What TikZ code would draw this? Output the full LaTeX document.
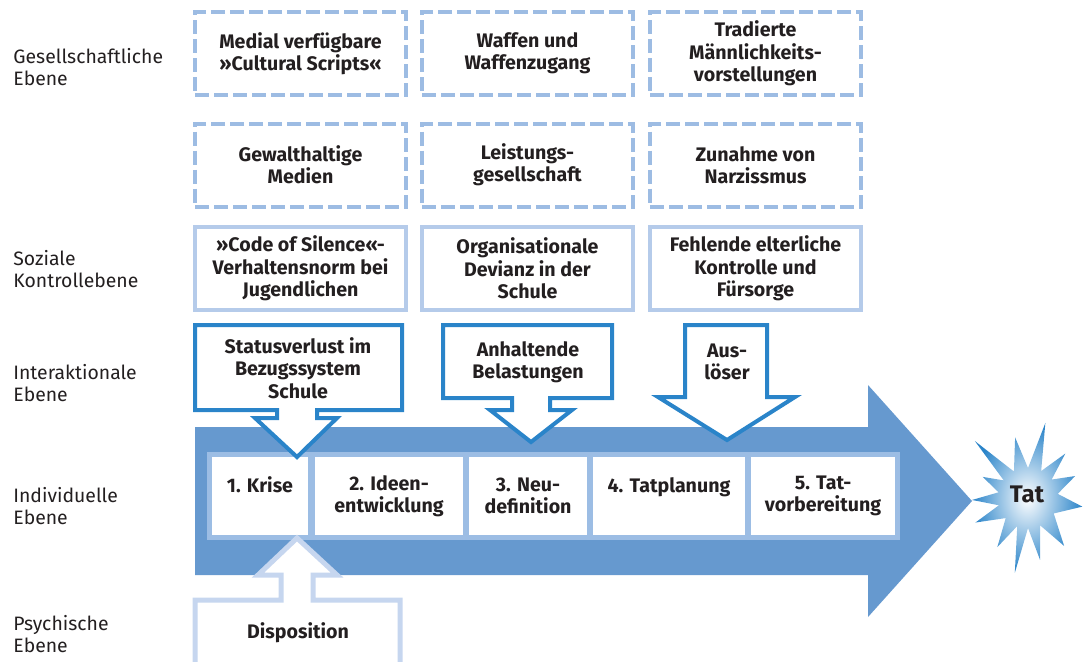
\documentclass[tikz,border=0pt]{standalone}
\usepackage{fontspec}
\setmainfont{Fira Sans}

\definecolor{dashblue}{HTML}{9DBCE3}
\definecolor{softblue}{HTML}{B5CBEA}
\definecolor{darkblue}{HTML}{2A84C9}
\definecolor{midblue}{HTML}{6699CF}
\definecolor{stripblue}{HTML}{9CBDE4}
\definecolor{dispblue}{HTML}{C6D6EF}
\definecolor{textgray}{HTML}{231F20}

\tikzset{
  factor/.style={draw=dashblue, line width=2pt, dash pattern=on 7pt off 2.5pt,
    minimum width=105.5pt, minimum height=41.5pt, inner sep=0pt, align=center,
    font=\fontsize{9.8}{11.2}\selectfont\bfseries, text=textgray},
  control/.style={factor, draw=softblue, solid},
  level/.style={anchor=west, align=left, inner sep=0pt, text=textgray,
    font=\fontsize{9.7}{11.2}\selectfont},
  phase/.style={fill=white, minimum height=39pt, inner sep=0pt, align=center,
    font=\fontsize{9.8}{11.2}\selectfont\bfseries, text=textgray},
  callout/.style={draw=darkblue, line width=2pt, fill=white, line join=miter},
  calltext/.style={align=center, inner sep=0pt, text=textgray,
    font=\fontsize{9.8}{11.2}\selectfont\bfseries}
}

\begin{document}
\begin{tikzpicture}[x=0.5pt,y=-0.5pt]
\useasboundingbox (0,0) rectangle (1085,661);
\clip (0,0) rectangle (1085,661);

% Ebenen
\node[level] (gesellschaft) at (13,67) {Gesellschaftliche\\Ebene};
\node[level] (sozial) at (13,269) {Soziale\\Kontrollebene};
\node[level] (interaktion) at (13,383) {Interaktionale\\Ebene};
\node[level] (individuell) at (13,506) {Individuelle\\Ebene};
\node[level] (psychisch) at (13,634) {Psychische\\Ebene};

% gesellschaftliche Faktoren
\node[factor] (scripts) at (300.5,53.5) {Medial verfügbare\\»Cultural Scripts«};
\node[factor] (waffen) at (527.5,53.5) {Waffen und\\Waffenzugang};
\node[factor] (maennlich) at (755.5,53.5) {Tradierte\\Männlichkeits-\\vorstellungen};
\node[factor] (medien) at (300.5,165) {Gewalthaltige\\Medien};
\node[factor] (leistung) at (527.5,165) {Leistungs-\\gesellschaft};
\node[factor] (narziss) at (755.5,165) {Zunahme von\\Narzissmus};

% soziale Kontrolle
\node[control] (silence) at (300.5,268.5) {»Code of Silence«-\\Verhaltensnorm bei\\Jugendlichen};
\node[control] (devianz) at (527.5,268.5) {Organisationale\\Devianz in der\\Schule};
\node[control] (eltern) at (755.5,268.5) {Fehlende elterliche\\Kontrolle und\\Fürsorge};

% Prozesspfeil
\fill[midblue] (195,427) -- (868,427) -- (868,385) -- (972,501) -- (868,617)
  -- (868,575) -- (195,575) -- cycle;
\fill[stripblue] (207,452) rectangle (900,540);

\node[phase, minimum width=48pt] (krise) at (260,496) {1. Krise\\\mbox{}};
\node[phase, minimum width=74pt] (ideen) at (389,496) {2. Ideen-\\entwicklung};
\node[phase, minimum width=59pt] (neu) at (528,496) {3. Neu-\\definition};
\node[phase, minimum width=76pt] (planung) at (669,496) {4. Tatplanung\\\mbox{}};
\node[phase, minimum width=72pt] (vorbereitung) at (823,496) {5. Tat-\\vorbereitung};

% Tat
\begin{scope}[shift={(1028,498)}]
\shade[inner color=white, outer color=darkblue]
  (9:55) -- (31:30) -- (53:60) -- (66:30) -- (79:63) -- (90:30) -- (100:76)
  -- (111:30) -- (122:58) -- (138:30) -- (155:58) -- (166:30) -- (178:56)
  -- (191:30) -- (205:50) -- (216:30) -- (227:78) -- (242:30) -- (258:62)
  -- (270:30) -- (283:77) -- (296:30) -- (310:58) -- (322:30) -- (335:52)
  -- (352:30) -- cycle;
\end{scope}
\node[calltext, font=\fontsize{12}{14}\selectfont\bfseries] (tat) at (1027,494) {Tat};

% interaktionale Ebene
\path[callout] (195,325) -- (402,325) -- (402,410) -- (317,410) -- (317,418)
  -- (337,418) -- (297,457) -- (255,418) -- (277,418) -- (277,410)
  -- (195,410) -- cycle;
\node[calltext] (status) at (298,368) {Statusverlust im\\Bezugssystem\\Schule};

\path[callout] (443,325) -- (612,325) -- (612,398) -- (550,398) -- (550,410)
  -- (572,410) -- (531,442) -- (490,410) -- (512,410) -- (512,398)
  -- (443,398) -- cycle;
\node[calltext] (belastung) at (528,362) {Anhaltende\\Belastungen};

\path[callout] (685,325) -- (767,325) -- (767,397) -- (795,397) -- (727,440)
  -- (658,397) -- (685,397) -- cycle;
\node[calltext] (ausloeser) at (727,362) {Aus-\\löser};

% psychische Ebene
\path[draw=dispblue, line width=2.5pt, fill=white, line join=miter]
  (195,670) -- (195,600) -- (281,600) -- (281,575) -- (258,575) -- (297,538)
  -- (337,575) -- (313,575) -- (313,600) -- (400,600) -- (400,670);
\node[calltext] (disposition) at (298,633) {Disposition};
\end{tikzpicture}
\end{document}
